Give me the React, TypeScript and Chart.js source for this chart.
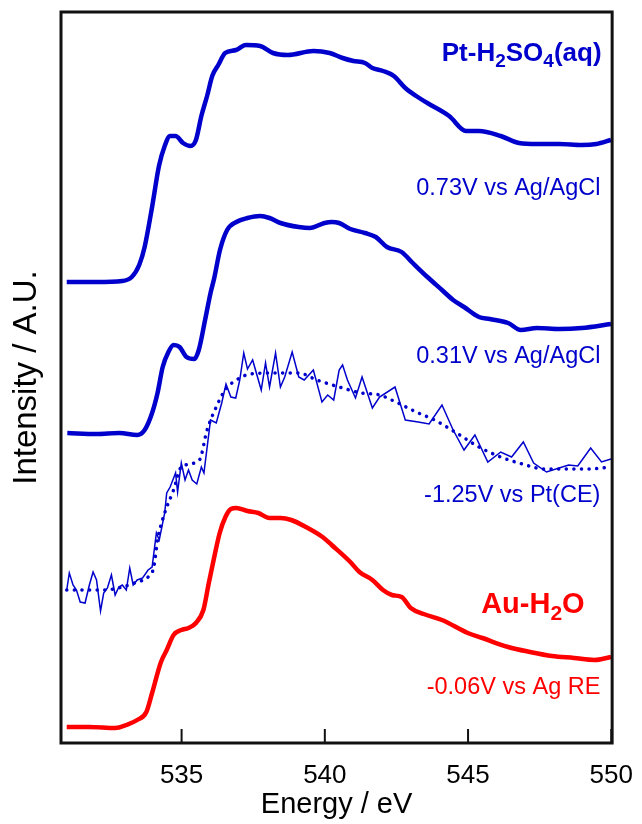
import React, { useEffect, useRef } from "react";
import { Chart, registerables } from "chart.js";

Chart.register(...registerables);

const FONT = "'Liberation Sans', Arial, Helvetica, sans-serif";

// Axis
const X_MIN = 530.79;
const X_MAX = 550.03;
const X_TICKS = [535, 540, 545, 550];
const Y_MIN = 0;
const Y_MAX = 731;

// Pt-H2SO4(aq), 0.73 V vs Ag/AgCl (offset intensity, A.U.)
const E_073 = [530.99, 532.03, 532.93, 533.26, 533.52, 533.71, 533.97, 534.21, 534.41, 534.6, 534.79, 535.05, 535.31, 535.5, 535.69, 535.89, 536.07, 536.28, 536.52, 536.9, 537.24, 537.74, 538.19, 538.71, 539.6, 540.17, 540.62, 541.0, 541.4, 541.66, 542.03, 542.41, 542.81, 543.19, 543.58, 544.34, 544.93, 545.38, 546.14, 546.78, 547.41, 548.19, 548.97, 549.48, 549.99];
const I_073 = [461, 461, 462, 466, 478, 496, 536, 577, 597, 607, 607, 600, 597, 603, 627, 647, 667, 678, 690, 693, 698, 697, 690, 688, 692, 690, 685, 682, 680, 675, 672, 667, 655, 647, 640, 627, 612, 612, 607, 600, 599, 599, 598, 599, 603];

// 0.31 V vs Ag/AgCl
const E_031 = [531.01, 532.03, 532.83, 533.45, 533.71, 533.97, 534.16, 534.34, 534.54, 534.72, 534.93, 535.17, 535.44, 535.6, 535.82, 536.01, 536.14, 536.34, 536.59, 536.91, 537.3, 537.74, 538.07, 538.45, 539.09, 539.48, 539.99, 540.24, 540.5, 540.89, 541.4, 541.78, 542.17, 542.68, 543.07, 543.58, 544.09, 544.48, 544.86, 545.38, 545.76, 546.4, 546.84, 547.41, 548.19, 548.97, 549.99];
const I_031 = [310, 309, 310, 308, 313, 330, 350, 376, 391, 398, 396, 386, 384, 393, 423, 450, 465, 493, 513, 521, 525, 527, 525, 520, 516, 515, 520, 521, 520, 514, 510, 506, 496, 491, 480, 466, 453, 443, 436, 426, 424, 420, 413, 415, 414, 415, 419];

// -1.25 V vs Pt(CE), raw (noisy)
const E_125 = [530.99, 531.08, 531.21, 531.33, 531.46, 531.63, 531.78, 531.91, 532.03, 532.17, 532.28, 532.41, 532.55, 532.68, 532.81, 532.93, 533.07, 533.19, 533.31, 533.45, 533.64, 533.83, 533.97, 534.12, 534.22, 534.41, 534.48, 534.6, 534.79, 534.86, 534.99, 535.12, 535.24, 535.37, 535.53, 535.69, 535.78, 536.01, 536.21, 536.4, 536.55, 536.72, 536.89, 537.03, 537.17, 537.3, 537.48, 537.78, 537.93, 538.07, 538.28, 538.45, 538.6, 538.86, 539.09, 539.28, 539.6, 539.9, 540.1, 540.31, 540.5, 540.62, 540.79, 541.07, 541.3, 541.66, 541.91, 542.45, 542.81, 543.26, 543.64, 544.09, 544.48, 544.86, 545.24, 545.69, 546.14, 546.52, 546.93, 547.29, 547.74, 548.51, 548.83, 549.28, 549.66, 549.99];
const I_125 = [153, 170, 158, 153, 141, 140, 158, 171, 163, 132, 150, 155, 168, 148, 156, 158, 153, 175, 158, 163, 165, 173, 176, 210, 203, 230, 250, 256, 270, 251, 280, 263, 273, 263, 259, 276, 270, 323, 320, 340, 359, 346, 345, 363, 390, 374, 383, 353, 380, 356, 390, 356, 366, 391, 366, 363, 373, 341, 348, 343, 373, 378, 363, 345, 366, 335, 346, 356, 323, 321, 319, 338, 313, 293, 308, 281, 291, 286, 301, 280, 271, 278, 277, 295, 281, 284];

// -1.25 V smoothed (dotted)
const E_125_FIT = [530.99, 531.52, 532.3, 532.93, 533.45, 533.83, 534.03, 534.16, 534.41, 534.72, 534.99, 535.62, 535.89, 536.21, 536.52, 537.03, 537.41, 538.19, 539.09, 539.72, 540.5, 541.28, 541.91, 542.55, 543.19, 543.83, 544.6, 545.38, 546.14, 546.9, 547.68, 548.45, 549.21, 549.99];
const I_125_FIT = [153, 153, 153, 156, 161, 166, 176, 203, 230, 253, 276, 283, 313, 336, 353, 365, 369, 370, 370, 363, 356, 350, 348, 340, 331, 323, 310, 296, 286, 279, 274, 274, 274, 276];

// Au-H2O, -0.06 V vs Ag RE
const E_AU = [530.99, 531.78, 532.68, 533.07, 533.45, 533.77, 533.97, 534.28, 534.48, 534.72, 534.99, 535.24, 535.5, 535.76, 535.95, 536.14, 536.33, 536.53, 536.72, 536.91, 537.3, 537.68, 538.07, 538.45, 538.83, 539.34, 539.92, 540.24, 540.89, 541.21, 541.66, 542.03, 542.34, 542.68, 543.0, 543.45, 544.09, 544.99, 545.5, 546.4, 547.17, 547.93, 548.7, 549.41, 549.99];
const I_AU = [16, 16, 15, 18, 23, 31, 50, 81, 93, 108, 113, 115, 120, 133, 160, 186, 210, 226, 234, 235, 232, 230, 225, 225, 223, 216, 206, 198, 181, 171, 163, 153, 148, 146, 135, 129, 123, 110, 105, 96, 91, 87, 85, 83, 86];

// Annotation texts ("_n" = subscript digit)
const LABEL_TEXTS = ["Pt-H_2SO_4(aq)", "0.73V vs Ag/AgCl", "0.31V vs Ag/AgCl", "-1.25V vs Pt(CE)", "Au-H_2O", "-0.06V vs Ag RE"];
const LABEL_E = [549.66, 549.62, 549.62, 549.62, 549.07, 549.62]; // right edge
const LABEL_I = [691, 556, 388, 249, 140, 57]; // vertical centre

const BLUE = "#0000cc";
const RED = "#ff0000";

const LABEL_STYLE = [
  { size: 26, bold: true, color: BLUE },
  { size: 23.5, bold: false, color: BLUE },
  { size: 23.5, bold: false, color: BLUE },
  { size: 23.5, bold: false, color: BLUE },
  { size: 29, bold: true, color: RED },
  { size: 23.5, bold: false, color: RED },
];

function pts(xs: number[], ys: number[]) {
  const n = Math.min(xs.length, ys.length);
  const out: { x: number; y: number }[] = [];
  for (let i = 0; i < n; i++) out.push({ x: xs[i], y: ys[i] });
  return out;
}

function drawRich(ctx: CanvasRenderingContext2D, text: string, xRight: number, yMid: number, size: number, bold: boolean, color: string) {
  const parts: { t: string; sub: boolean }[] = [];
  const re = /_(\d)/g;
  let last = 0;
  let m: RegExpExecArray | null;
  while ((m = re.exec(text))) {
    if (m.index > last) parts.push({ t: text.slice(last, m.index), sub: false });
    parts.push({ t: m[1], sub: true });
    last = re.lastIndex;
  }
  if (last < text.length) parts.push({ t: text.slice(last), sub: false });
  const fontFor = (sub: boolean) => `${bold ? "bold " : ""}${sub ? Math.round(size * 0.72) : size}px ${FONT}`;
  let total = 0;
  const widths = parts.map((p) => {
    ctx.font = fontFor(p.sub);
    const w = ctx.measureText(p.t).width;
    total += w;
    return w;
  });
  const baseline = yMid + size * 0.358;
  let x = xRight - total;
  ctx.fillStyle = color;
  ctx.textAlign = "left";
  ctx.textBaseline = "alphabetic";
  parts.forEach((p, i) => {
    ctx.font = fontFor(p.sub);
    ctx.fillText(p.t, x, p.sub ? baseline + size * 0.22 : baseline);
    x += widths[i];
  });
}

const framePlugin = {
  id: "frameAndLabels",
  afterDatasetsDraw(chart: any) {
    const { ctx, scales } = chart;
    const xs = scales.x;
    const ys = scales.y;
    ctx.save();
    LABEL_TEXTS.forEach((t, i) => {
      const st = LABEL_STYLE[i];
      drawRich(ctx, t, xs.getPixelForValue(LABEL_E[i]), ys.getPixelForValue(LABEL_I[i]), st.size, st.bold, st.color);
    });
    ctx.restore();
  },
  afterDraw(chart: any) {
    const { ctx, chartArea, scales } = chart;
    const { left, top, right, bottom } = chartArea;
    ctx.save();
    ctx.strokeStyle = "#111";
    ctx.lineWidth = 2;
    X_TICKS.forEach((v) => {
      const px = scales.x.getPixelForValue(v);
      ctx.beginPath();
      ctx.moveTo(px, bottom);
      ctx.lineTo(px, bottom - 14);
      ctx.stroke();
    });
    ctx.lineWidth = 3;
    ctx.strokeRect(left, top, right - left, bottom - top);
    ctx.restore();
  },
};

export default function App() {
  const ref = useRef<HTMLCanvasElement | null>(null);
  useEffect(() => {
    if (!ref.current) return;
    Chart.defaults.font.family = FONT;
    const thick = { borderWidth: 4.5, pointRadius: 0, cubicInterpolationMode: "monotone" as const, fill: false };
    const chart = new Chart(ref.current, {
      type: "line",
      data: {
        datasets: [
          { ...thick, label: "0.73V", data: pts(E_073, I_073), borderColor: BLUE },
          { ...thick, label: "0.31V", data: pts(E_031, I_031), borderColor: BLUE },
          { label: "-1.25V fit", data: pts(E_125_FIT, I_125_FIT), borderColor: BLUE, borderWidth: 3.5, borderDash: [0.1, 7.5], borderCapStyle: "round", pointRadius: 0, cubicInterpolationMode: "monotone", fill: false },
          { label: "-1.25V", data: pts(E_125, I_125), borderColor: BLUE, borderWidth: 1.5, pointRadius: 0, tension: 0, fill: false },
          { ...thick, label: "Au", data: pts(E_AU, I_AU), borderColor: RED },
        ],
      },
      options: {
        animation: false,
        responsive: false,
        devicePixelRatio: 1,
        layout: { padding: { left: 0, top: 12, right: 23, bottom: 0 } },
        plugins: { legend: { display: false }, tooltip: { enabled: false } },
        scales: {
          x: {
            type: "linear",
            min: X_MIN,
            max: X_MAX,
            afterBuildTicks: (s: any) => {
              s.ticks = X_TICKS.map((v) => ({ value: v }));
            },
            afterFit: (s: any) => {
              s.height = 81;
            },
            grid: { display: false },
            border: { display: false },
            ticks: { color: "#000", font: { size: 26, family: FONT }, padding: 9, maxRotation: 0, autoSkip: false, includeBounds: false },
            title: { display: true, text: "Energy / eV", color: "#000", font: { size: 29, family: FONT }, padding: { top: 0, bottom: 2 } },
          },
          y: {
            type: "linear",
            min: Y_MIN,
            max: Y_MAX,
            afterFit: (s: any) => {
              s.width = 61;
            },
            grid: { display: false },
            border: { display: false },
            ticks: { display: false },
            title: { display: true, text: "Intensity / A.U.", color: "#000", font: { size: 33, family: FONT }, padding: { top: 7, bottom: 0 } },
          },
        },
      },
      plugins: [framePlugin],
    });
    return () => chart.destroy();
  }, []);
  return (
    <div style={{ position: "absolute", left: 0, top: 0, width: 642, height: 824, background: "#fff" }}>
      <canvas ref={ref} width={642} height={824} style={{ display: "block" }} />
    </div>
  );
}
